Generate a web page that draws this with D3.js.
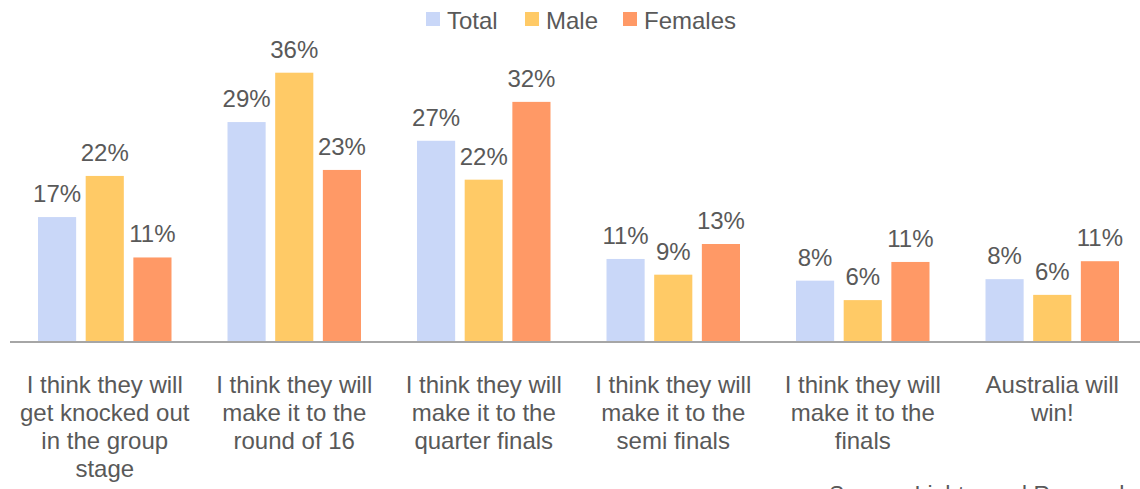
<!DOCTYPE html>
<html>
<head>
<meta charset="utf-8">
<script src="https://cdn.jsdelivr.net/npm/d3@7"></script>
<style>
  body { margin: 0; background: #fff; }
  svg { display: block; font-family: "Liberation Sans", Arial, sans-serif; }
</style>
</head>
<body>
<div id="chart"></div>
<script>
let categories = [
    ['I think they will', 'get knocked out', 'in the group', 'stage'],
    ['I think they will', 'make it to the', 'round of 16'],
    ['I think they will', 'make it to the', 'quarter finals'],
    ['I think they will', 'make it to the', 'semi finals'],
    ['I think they will', 'make it to the', 'finals'],
    ['Australia will', 'win!']
];
let seriesNames = ['Total', 'Male', 'Females'];
// values; labels show them rounded
let total   = [16.7, 29.4, 26.9, 11.1, 8.2, 8.4];
let male    = [22.2, 36.0, 21.7, 9.0, 5.6, 6.3];
let females = [11.3, 23.0, 32.1, 13.1, 10.7, 10.8];
let colors  = ['#c9d7f8', '#ffca66', '#ff9966'];

let chart_width  = 1140;
let chart_height = 489;
let baseY = 342;

let series = [total, male, females];

let svg = d3.select('#chart')
    .append('svg')
    .attr('width', chart_width)
    .attr('height', chart_height);

// scales
let x0 = d3.scaleBand()
    .domain(d3.range(categories.length))
    .range([10, 1147]);

let x1 = d3.scaleBand()
    .domain(d3.range(series.length))
    .range([28, x0.bandwidth() - 28])
    .paddingInner(0.2);

let yScale = d3.scaleLinear()
    .domain([0, 36])
    .range([baseY, 72.7]);

// bars
let groups = svg.selectAll('g.grp')
    .data(categories)
    .enter()
    .append('g')
    .attr('class', 'grp')
    .attr('transform', (d, i) => 'translate(' + x0(i) + ',0)');

groups.each(function(c, i) {
    let g = d3.select(this);
    let vals = series.map((s, k) => ({ k: k, v: s[i] }));
    g.selectAll('rect')
        .data(vals)
        .enter()
        .append('rect')
        .attr('x', d => x1(d.k))
        .attr('y', d => yScale(d.v))
        .attr('width', x1.bandwidth())
        .attr('height', d => baseY - yScale(d.v))
        .attr('fill', d => colors[d.k]);
    g.selectAll('text.val')
        .data(vals)
        .enter()
        .append('text')
        .attr('class', 'val')
        .attr('x', d => x1(d.k) + x1.bandwidth() / 2)
        .attr('y', d => yScale(d.v) - 15)
        .attr('text-anchor', 'middle')
        .attr('font-size', 24)
        .attr('fill', '#595959')
        .text(d => Math.round(d.v) + '%');
});

// axis line
svg.append('line')
    .attr('x1', 10)
    .attr('x2', chart_width)
    .attr('y1', baseY)
    .attr('y2', baseY)
    .attr('stroke', '#a6a6a6')
    .attr('stroke-width', 2);

// category labels
let labels = svg.selectAll('text.cat')
    .data(categories)
    .enter()
    .append('text')
    .attr('class', 'cat')
    .attr('text-anchor', 'middle')
    .attr('font-size', 24)
    .attr('fill', '#595959')
    .attr('x', (d, i) => x0(i) + x0.bandwidth() / 2);

labels.selectAll('tspan')
    .data(d => d)
    .enter()
    .append('tspan')
    .attr('x', function() { return d3.select(this.parentNode).attr('x'); })
    .attr('y', (d, j) => 393 + j * 28)
    .text(d => d);

// legend
let legendX = [426, 525, 623];
let legend = svg.selectAll('g.leg')
    .data(seriesNames)
    .enter()
    .append('g')
    .attr('class', 'leg')
    .attr('transform', (d, i) => 'translate(' + legendX[i] + ',0)');

legend.append('rect')
    .attr('x', 0)
    .attr('y', 12)
    .attr('width', 14)
    .attr('height', 14)
    .attr('fill', (d, i) => colors[i]);

legend.append('text')
    .attr('x', 21)
    .attr('y', 29)
    .attr('font-size', 24)
    .attr('fill', '#595959')
    .text(d => d);

// source note (cut off at bottom edge, as in the original)
svg.append('text')
    .attr('x', 1132)
    .attr('y', 503)
    .attr('text-anchor', 'end')
    .attr('font-size', 23)
    .attr('fill', '#595959')
    .text('Source: Lightspeed Research');
</script>
</body>
</html>
